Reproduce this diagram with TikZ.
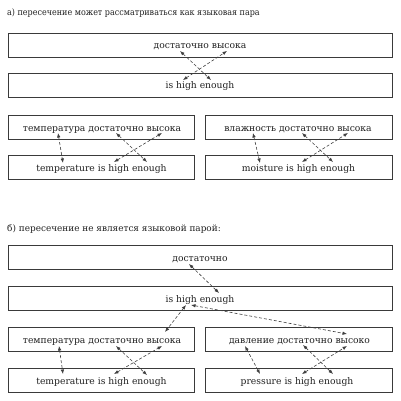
\documentclass[tikz,border=0pt]{standalone}
\usepackage{fontspec}
\usepackage{graphicx}
\setmainfont{DejaVu Serif}
\newfontfamily\diagfont{DejaVu Serif}
\usetikzlibrary{arrows.meta}
\definecolor{boxline}{HTML}{3A3A3A}
\definecolor{arrline}{HTML}{404040}
\definecolor{txt}{HTML}{202020}
\begin{document}
\begin{tikzpicture}[x=1pt,y=-1pt,
  box/.style={draw=boxline,line width=0.9pt},
  lbl/.style={anchor=base,inner sep=0pt,text=txt,font=\diagfont\fontsize{9.2}{11}\selectfont},
  ttl/.style={anchor=base west,inner sep=0pt,text=txt,font=\diagfont\fontsize{8.9}{11}\selectfont},
  link/.style={draw=arrline,line width=0.6pt,dash pattern=on 3pt off 2pt,
     {Latex[length=4.5pt,width=3.5pt]}-{Latex[length=4.5pt,width=3.5pt]}}]
\useasboundingbox (0,0) rectangle (400,401);
\fill[white] (0,0) rectangle (400,401);
% titles
\node[ttl] (ta) at (7,16) {\scalebox{0.9}[1]{а) пересечение может рассматриваться как языковая пара}};
\node[ttl] (tb) at (7,231) {б) пересечение не является языковой парой:};
% part a boxes
\draw[box] (8,33) rectangle (392,57);
\draw[box] (8,73) rectangle (392,97);
\draw[box] (8,115) rectangle (194,139);
\draw[box] (205,115) rectangle (392,139);
\draw[box] (8,155) rectangle (194,179);
\draw[box] (205,155) rectangle (392,179);
% part b boxes
\draw[box] (8,245) rectangle (392,269);
\draw[box] (8,286) rectangle (392,310);
\draw[box] (8,327) rectangle (194,351);
\draw[box] (205,327) rectangle (392,351);
\draw[box] (8,368) rectangle (194,392);
\draw[box] (205,368) rectangle (392,392);
% texts a
\node[lbl] (a1) at (200,49) {достаточно высока};
\node[lbl] (a2) at (200,89) {is high enough};
\node[lbl] (a3l) at (102,131) {температура достаточно высока};
\node[lbl] (a4l) at (101.5,171) {temperature is high enough};
\node[lbl] (a3r) at (298,131) {влажность достаточно высока};
\node[lbl] (a4r) at (298.5,171) {moisture is high enough};
% texts b
\node[lbl] (b1) at (200,261) {достаточно};
\node[lbl] (b2) at (200,302) {is high enough};
\node[lbl] (b3l) at (102,343) {температура достаточно высока};
\node[lbl] (b4l) at (101.5,384) {temperature is high enough};
\node[lbl] (b3r) at (299.5,343) {давление достаточно высоко};
\node[lbl] (b4r) at (297,384) {pressure is high enough};
% arrow end points, part a
\coordinate (pa1) at (180,51);  \coordinate (pa2) at (211,80);
\coordinate (pa3) at (183,80);  \coordinate (pa4) at (227,51);
\coordinate (pl1) at (58,133);  \coordinate (pl2) at (63,163);
\coordinate (pl3) at (116,133); \coordinate (pl4) at (147,162);
\coordinate (pl5) at (114,162); \coordinate (pl6) at (162,133);
\coordinate (pr1) at (253,133); \coordinate (pr2) at (260,163);
\coordinate (pr3) at (302,133); \coordinate (pr4) at (333,162);
\coordinate (pr5) at (302,162); \coordinate (pr6) at (348,133);
% arrow end points, part b
\coordinate (qb1) at (189,264); \coordinate (qb2) at (219,293);
\coordinate (qb3) at (186,305); \coordinate (qb4) at (165,332);
\coordinate (qb5) at (191,305); \coordinate (qb6) at (347,334);
\coordinate (ql1) at (59,346);  \coordinate (ql2) at (63,374);
\coordinate (ql3) at (116,346); \coordinate (ql4) at (147,375);
\coordinate (ql5) at (114,374); \coordinate (ql6) at (162,346);
\coordinate (qr1) at (245,346); \coordinate (qr2) at (260,374);
\coordinate (qr3) at (303,345); \coordinate (qr4) at (333,374);
\coordinate (qr5) at (302,374); \coordinate (qr6) at (347,346);
% connectors
\draw[link] (pa1) -- (pa2);
\draw[link] (pa3) -- (pa4);
\draw[link] (pl1) -- (pl2);
\draw[link] (pl3) -- (pl4);
\draw[link] (pl5) -- (pl6);
\draw[link] (pr1) -- (pr2);
\draw[link] (pr3) -- (pr4);
\draw[link] (pr5) -- (pr6);
\draw[link] (qb1) -- (qb2);
\draw[link] (qb3) -- (qb4);
\draw[link] (qb5) -- (qb6);
\draw[link] (ql1) -- (ql2);
\draw[link] (ql3) -- (ql4);
\draw[link] (ql5) -- (ql6);
\draw[link] (qr1) -- (qr2);
\draw[link] (qr3) -- (qr4);
\draw[link] (qr5) -- (qr6);
\end{tikzpicture}
\end{document}
